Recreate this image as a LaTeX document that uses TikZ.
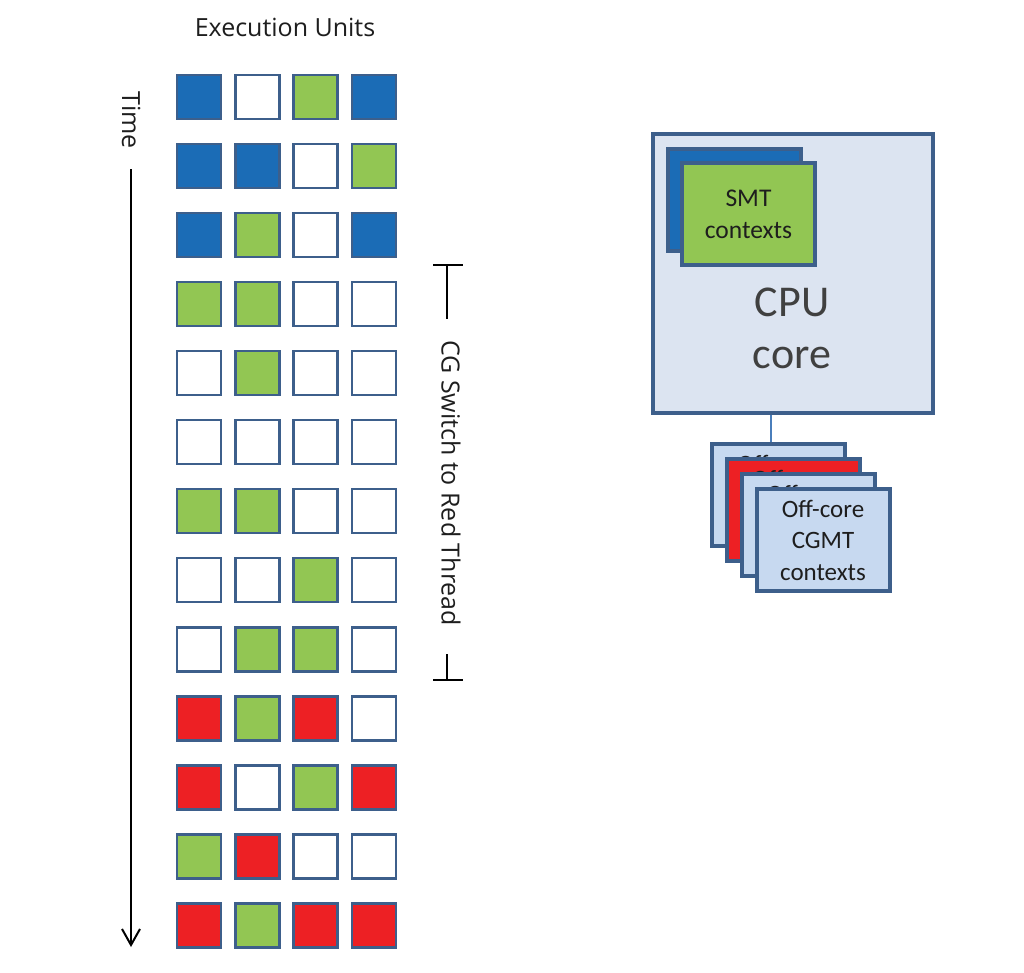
\documentclass[tikz,border=0pt]{standalone}
\usepackage{fontspec}
\newfontfamily\osans{Open Sans}
\newfontfamily\calib{Carlito}
\usetikzlibrary{arrows.meta}
\definecolor{cb}{HTML}{1B6CB6}
\definecolor{cg}{HTML}{92C653}
\definecolor{cr}{HTML}{ED2024}
\definecolor{cw}{HTML}{FFFFFF}
\definecolor{cedge}{HTML}{3D5F8B}
\definecolor{cpufill}{HTML}{DCE4F1}
\definecolor{offfill}{HTML}{C7D9F0}
\definecolor{linkc}{HTML}{4A7EBB}
\definecolor{txt}{HTML}{1E1E1E}
\definecolor{cputxt}{HTML}{404040}
\begin{document}
\begin{tikzpicture}[x=1pt,y=-1pt,
  cell/.style={draw=cedge,line width=2.5pt,minimum size=44pt,inner sep=0pt},
  lbl/.style={font=\osans\fontsize{25}{30}\selectfont,text=txt,inner sep=0pt},
  ctxbox/.style={draw=cedge,line width=4pt,minimum width=133pt,minimum height=102pt,inner sep=0pt,
     font=\calib\fontsize{25}{31.5}\selectfont,text=txt,align=center},
  offbox/.style={ctxbox,fill=offfill},
  bracket/.style={line width=1.5pt,black}]
\useasboundingbox (0,0) rectangle (1024,972);
\fill[white] (0,0) rectangle (1024,972);

% heading
\node[lbl,anchor=base] (eu) at (285,36) {Execution Units};

% grid
\foreach \row [count=\i from 0] in {{cb,cw,cg,cb},{cb,cb,cw,cg},{cb,cg,cw,cb},{cg,cg,cw,cw},
   {cw,cg,cw,cw},{cw,cw,cw,cw},{cg,cg,cw,cw},{cw,cw,cg,cw},{cw,cg,cg,cw},
   {cr,cg,cr,cw},{cr,cw,cg,cr},{cg,cr,cw,cw},{cr,cg,cr,cr}} {
  \foreach \c [count=\j from 0] in \row {
    \node[cell,fill=\c] (s\i-\j) at ({199+58.3*\j},{97+69.03*\i}) {};
  }
}

% time axis
\node[lbl,rotate=-90,anchor=base] (time) at (122,120) {Time};
\coordinate (tstart) at (131,169);
\coordinate (tend) at (131,947);
\draw[line width=2pt,-{Straight Barb[length=16pt,width=18pt]}] (tstart) -- (tend);

% CG switch bracket
\node[lbl,rotate=-90,anchor=base] (cgl) at (441.5,483) {CG Switch to Red Thread};
\coordinate (cgt) at (447,265);
\coordinate (cgta) at (447,319);
\coordinate (cgb) at (447,680);
\coordinate (cgba) at (447,654);
\draw[bracket] (cgt) -- (cgta);
\draw[bracket] (cgba) -- (cgb);
\draw[bracket] ([xshift=-14pt]cgt) -- ([xshift=16pt]cgt);
\draw[bracket] ([xshift=-14pt]cgb) -- ([xshift=16pt]cgb);

% CPU core
\node[draw=cedge,line width=4.5pt,fill=cpufill,minimum width=280pt,minimum height=279pt,inner sep=0pt] (cpu) at (793,273.5) {};
\node[font=\calib\fontsize{44}{52}\selectfont,text=cputxt,align=center,inner sep=0pt] (cputext) at (792,328) {CPU\\core};
\node[ctxbox,fill=cb] (smtback) at (734,200) {};
\node[ctxbox,fill=cg,font=\calib\fontsize{25.5}{32}\selectfont] (smt) at (748.5,214) {SMT\\contexts};

% off-core contexts
\node[offbox] (off1) at (778.5,495) {Off-core\\CGMT\\contexts};
\node[ctxbox,fill=cr] (off2) at (793.3,510) {Off-core\\CGMT\\contexts};
\node[offbox] (off3) at (808.1,525) {Off-core\\CGMT\\contexts};
\node[offbox] (off4) at (823,540) {Off-core\\CGMT\\contexts};

\draw[linkc,line width=2pt] ([xshift=-7.5pt]off1.north) -- ([xshift=-7.5pt]off1.north |- cpu.south);
\end{tikzpicture}
\end{document}
